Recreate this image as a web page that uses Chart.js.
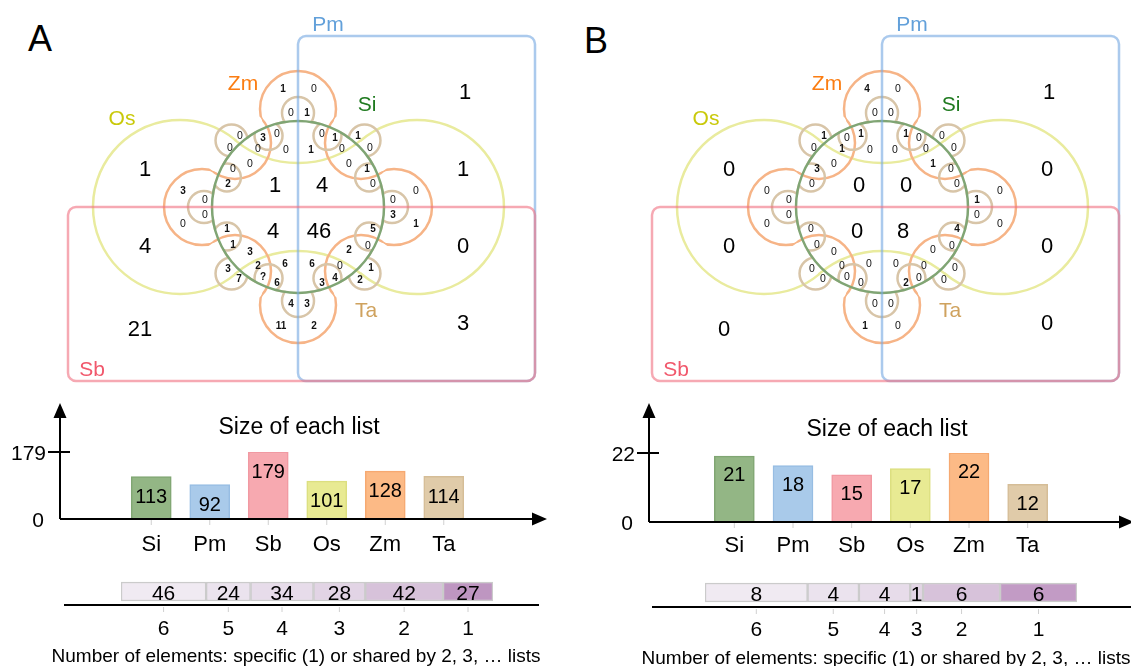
<!DOCTYPE html>
<html>
<head>
<meta charset="utf-8">
<title>Venn diagrams</title>
<script src="https://cdn.jsdelivr.net/npm/chart.js@4.4.1/dist/chart.umd.min.js"></script>
<style>
  body { margin: 0; background: #fff; }
  #fig { position: relative; width: 1131px; height: 666px; overflow: hidden; background: #fff; }
  #fig canvas { position: absolute; }
  .tag { position: absolute; font: 36px "Liberation Sans", Arial, sans-serif; line-height: 36px; color: #000; }
</style>
</head>
<body>
<div id="fig">
  <div class="tag" style="left:28px;top:21px">A</div>
  <div class="tag" style="left:584px;top:23px">B</div>
  <canvas id="vennA" width="583" height="395" style="left:0;top:0"></canvas>
  <canvas id="vennB" width="547" height="395" style="left:584px;top:0"></canvas>
  <canvas id="sizeA" width="583" height="165" style="left:0;top:395px"></canvas>
  <canvas id="sizeB" width="548" height="165" style="left:583px;top:395px"></canvas>
  <canvas id="sharedA" width="583" height="106" style="left:0;top:560px"></canvas>
  <canvas id="sharedB" width="548" height="106" style="left:583px;top:560px"></canvas>
</div>
<script>
const FONT = '"Liberation Sans", Arial, sans-serif';

// Size of each list
const lists = ['Si', 'Pm', 'Sb', 'Os', 'Zm', 'Ta'];
const sizesA = [113, 92, 179, 101, 128, 114];
const sizesB = [21, 18, 15, 17, 22, 12];

// Elements specific (1) or shared by n lists
const sharedBy = ['6', '5', '4', '3', '2', '1'];
const sharedA = [46, 24, 34, 28, 42, 27];
const sharedB = [8, 4, 4, 1, 6, 6];

// Venn region counts (big regions, then the small ones round the ring)
const bigA = [1, 1, 1, 1, 4, 4, 4, 46, 0, 21, 3];
const bigB = [1, 0, 0, 0, 0, 0, 0, 8, 0, 0, 0];
// null = unreadable in the source, printed as "?"
const smallA = [1, 0, 0, 1,
  0, 3, 0, 0, 0, 0, 0, 0, 2,
  0, 1, 1, 0, 0, 1, 0, 1, 0,
  3, 0, 0, 0,
  0, 0, 3, 1,
  1, 1, 3, 3, 2, 6, 7, null, 6,
  5, 0, 2, 6, 0, 1, 4, 3, 2,
  4, 3, 11, 2];
const smallB = [4, 0, 0, 0,
  1, 0, 1, 0, 1, 0, 0, 3, 0,
  1, 0, 0, 0, 0, 0, 1, 0, 0,
  0, 0, 0, 0,
  0, 1, 0, 0,
  0, 0, 0, 0, 0, 0, 0, 0, 0,
  4, 0, 0, 0, 0, 0, 0, 2, 0,
  0, 0, 1, 0];

// colours
const listFill = ['#93b685', '#a9caea', '#f7a9b0', '#e8ea93', '#fcba86', '#e0cba9'];
const listLine = ['#80a673', '#97bde3', '#f199a2', '#dcdf80', '#f6a971', '#d5bd97'];
const sharedFillA = ['#f0eaf2', '#ebe3ee', '#e7dcea', '#e2d4e5', '#d7c2da', '#be96c1'];
const sharedFillB = ['#f0eaf2', '#ebe3ee', '#e7dcea', '#e2d4e5', '#d7c2da', '#c29bc5'];

// venn layout (venn units = px inside the venn canvas)
const bigPos = [[465, 91], [145, 168], [463, 168], [275, 184], [322, 184], [145, 245],
  [273, 230], [319, 230], [463, 245], [140, 328], [463, 322]];
const smallPos = [
  [283, 88], [314, 88], [291, 112], [307, 112],
  [240, 135], [263, 137], [277, 133], [230, 147], [258, 148], [286, 149], [250, 163], [233, 168], [228, 183],
  [322, 133], [335, 137], [358, 135], [342, 148], [370, 147], [311, 149], [349, 163], [367, 168], [373, 183],
  [183, 190], [205, 199], [205, 214], [183, 223],
  [416, 190], [393, 199], [393, 214], [416, 223],
  [227, 228], [233, 244], [250, 251], [228, 268], [258, 265], [285, 263], [239, 278], [263, 276], [277, 282],
  [373, 228], [368, 245], [349, 249], [312, 263], [340, 265], [371, 267], [335, 277], [322, 282], [360, 279],
  [291, 303], [307, 303], [281, 325], [314, 325]
];
const setTags = [
  ['Pm', 328, 23, '#62a0da'], ['Zm', 243, 82, '#fb7d12'], ['Os', 122, 117, '#c9c90a'],
  ['Si', 367, 103, '#1f7a1f'], ['Ta', 366, 309, '#cfa25e'], ['Sb', 92, 368, '#f1586c']
];

const CX = 298, CY = 207;
const osLeft = [180, 207, 87], osRight = [417, 207, 87], osTop = [298, 65, 98], osBot = [298, 349, 98];
const siRing = [298, 207, 86];
const zmAdd = [[298, 207, 85], [298, 109, 38], [202, 207, 38], [394, 207, 38], [298, 305, 38]];
const zmCut = [[235, 143, 36], [361, 143, 36], [235, 271, 36], [361, 271, 36]];
const taAdd = [[298, 207, 86]];
const taCut = [];
for (let k = 0; k < 8; k++) {
  const a = k * Math.PI / 4, b = a + Math.PI / 8;
  taAdd.push([CX + 94 * Math.cos(a), CY - 94 * Math.sin(a), 16]);
  taCut.push([CX + 77 * Math.cos(b), CY - 77 * Math.sin(b), 14]);
}
const pmBox = [298, 36, 535, 381];
const sbBox = [68, 207, 535, 381];

// text centred on its digits / capitals
function text(ctx, t, x, y, size) {
  ctx.textBaseline = 'alphabetic';
  ctx.fillText(t, x, y + size * 0.36);
}

// stroke the outline of (union of adds) minus (union of cuts)
function outline(ctx, adds, cuts, color, w) {
  const W = ctx.canvas.width, H = ctx.canvas.height;
  const outside = c => {
    ctx.beginPath();
    ctx.rect(0, 0, W, H);
    ctx.moveTo(c[0] + c[2], c[1]);
    ctx.arc(c[0], c[1], c[2], 0, Math.PI * 2);
    ctx.clip('evenodd');
  };
  const ring = c => {
    ctx.beginPath();
    ctx.arc(c[0], c[1], c[2], 0, Math.PI * 2);
    ctx.strokeStyle = color;
    ctx.lineWidth = w;
    ctx.stroke();
  };
  adds.forEach((a, i) => {
    ctx.save();
    adds.forEach((b, j) => { if (j !== i) outside(b); });
    cuts.forEach(outside);
    ring(a);
    ctx.restore();
  });
  cuts.forEach((a, i) => {
    ctx.save();
    ctx.beginPath();
    adds.forEach(b => { ctx.moveTo(b[0] + b[2], b[1]); ctx.arc(b[0], b[1], b[2], 0, Math.PI * 2); });
    ctx.clip();
    cuts.forEach((b, j) => { if (j !== i) outside(b); });
    ring(a);
    ctx.restore();
  });
}

function box(ctx, x0, y0, x1, y1, r) {
  ctx.beginPath();
  ctx.moveTo(x0 + r, y0);
  ctx.arcTo(x1, y0, x1, y1, r);
  ctx.arcTo(x1, y1, x0, y1, r);
  ctx.arcTo(x0, y1, x0, y0, r);
  ctx.arcTo(x0, y0, x1, y0, r);
  ctx.closePath();
}

function vennPlugin(big, small) {
  return {
    id: 'venn',
    afterDraw(chart) {
      const ctx = chart.ctx, xs = chart.scales.x, ys = chart.scales.y;
      const X = v => xs.getPixelForValue(v);
      const Y = v => ys.getPixelForValue(v);
      const k = X(1) - X(0);
      const P = c => [X(c[0]), Y(c[1]), c[2] * k];
      const ang = (c, d) => Math.atan2(d[1] - c[1], d[0] - c[0]);
      ctx.save();

      // Os: two circles joined by two arcs through the middle
      const L = P(osLeft), R = P(osRight), T = P(osTop), B = P(osBot);
      ctx.beginPath();
      ctx.arc(L[0], L[1], L[2], ang(L, T), ang(L, B), true);
      ctx.arc(B[0], B[1], B[2], ang(B, L), ang(B, R), false);
      ctx.arc(R[0], R[1], R[2], ang(R, B), ang(R, T), true);
      ctx.arc(T[0], T[1], T[2], ang(T, R), ang(T, L), false);
      ctx.closePath();
      ctx.strokeStyle = '#e9eb9e';
      ctx.lineWidth = 2.5;
      ctx.stroke();

      // Zm and Ta flowers
      outline(ctx, zmAdd.map(P), zmCut.map(P), '#f6b487', 2.5);
      outline(ctx, taAdd.map(P), taCut.map(P), '#d8c5a8', 2.5);

      // Si
      const S = P(siRing);
      ctx.beginPath();
      ctx.arc(S[0], S[1], S[2], 0, Math.PI * 2);
      ctx.strokeStyle = '#80a574';
      ctx.lineWidth = 2.5;
      ctx.stroke();

      // Pm and Sb boxes
      ctx.lineWidth = 2.5;
      box(ctx, X(pmBox[0]), Y(pmBox[1]), X(pmBox[2]), Y(pmBox[3]), 8 * k);
      ctx.strokeStyle = 'rgba(120, 170, 226, 0.62)';
      ctx.stroke();
      box(ctx, X(sbBox[0]), Y(sbBox[1]), X(sbBox[2]), Y(sbBox[3]), 8 * k);
      ctx.strokeStyle = 'rgba(240, 112, 128, 0.6)';
      ctx.stroke();

      // counts
      ctx.textAlign = 'center';
      ctx.fillStyle = '#000';
      ctx.font = '22px ' + FONT;
      bigPos.forEach((p, i) => text(ctx, String(big[i]), X(p[0]), Y(p[1]), 22));
      ctx.fillStyle = '#111';
      smallPos.forEach((p, i) => {
        const v = small[i];
        ctx.font = (v === 0 ? '10.5px ' : 'bold 10px ') + FONT;
        text(ctx, v == null ? '?' : String(v), X(p[0]), Y(p[1]), 10.5);
      });

      // set names
      ctx.font = '21px ' + FONT;
      setTags.forEach(t => {
        ctx.fillStyle = t[3];
        text(ctx, t[0], X(t[1]), Y(t[2]), 21);
      });
      ctx.restore();
    }
  };
}

function vennChart(id, big, small) {
  const cv = document.getElementById(id);
  new Chart(cv, {
    type: 'scatter',
    data: { datasets: [] },
    options: {
      responsive: false,
      animation: false,
      plugins: { legend: { display: false }, tooltip: { enabled: false } },
      scales: {
        x: { type: 'linear', display: false, min: 0, max: cv.width },
        y: { type: 'linear', display: false, min: 0, max: cv.height, reverse: true }
      }
    },
    plugins: [vennPlugin(big, small)]
  });
}

function sizeAxes(values, lay) {
  return {
    id: 'sizeAxes',
    afterDraw(chart) {
      const ctx = chart.ctx, x = chart.scales.x, y = chart.scales.y;
      const y0 = y.getPixelForValue(0), yTop = y.getPixelForValue(y.max);
      ctx.save();
      // faint ticks under the bars
      ctx.strokeStyle = '#d0d0d0';
      ctx.lineWidth = 1;
      ctx.beginPath();
      values.forEach((v, i) => {
        const cx = x.getPixelForValue(i);
        ctx.moveTo(cx, y0 + 1);
        ctx.lineTo(cx, y0 + 6);
      });
      ctx.stroke();

      ctx.strokeStyle = '#000';
      ctx.fillStyle = '#000';
      ctx.lineWidth = 2;
      ctx.beginPath();
      ctx.moveTo(lay.axisX, y0); ctx.lineTo(lay.tipX - 12, y0);
      ctx.moveTo(lay.axisX, y0); ctx.lineTo(lay.axisX, lay.tipY + 12);
      ctx.moveTo(lay.axisX - 12, yTop); ctx.lineTo(lay.axisX + 10, yTop);
      ctx.stroke();
      ctx.beginPath();
      ctx.moveTo(lay.tipX, y0); ctx.lineTo(lay.tipX - 15, y0 - 6.5); ctx.lineTo(lay.tipX - 15, y0 + 6.5); ctx.closePath();
      ctx.moveTo(lay.axisX, lay.tipY); ctx.lineTo(lay.axisX - 6.5, lay.tipY + 15); ctx.lineTo(lay.axisX + 6.5, lay.tipY + 15); ctx.closePath();
      ctx.fill();

      ctx.font = '21px ' + FONT;
      ctx.textAlign = 'right';
      text(ctx, String(y.max), lay.axisX - 14, yTop, 21);
      text(ctx, '0', lay.axisX - 16, y0, 21);

      ctx.textAlign = 'center';
      ctx.font = '23px ' + FONT;
      text(ctx, 'Size of each list', lay.titleX, lay.titleY, 23);

      values.forEach((v, i) => {
        const cx = x.getPixelForValue(i);
        ctx.font = '22px ' + FONT;
        text(ctx, lists[i], cx, lay.catY, 22);
        ctx.font = '20px ' + FONT;
        text(ctx, String(v), cx, y.getPixelForValue(v) + lay.valueDrop, 20);
      });
      ctx.restore();
    }
  };
}

function sizeChart(id, values, lay) {
  new Chart(document.getElementById(id), {
    type: 'bar',
    data: {
      labels: lists,
      datasets: [{
        data: values,
        backgroundColor: listFill,
        borderColor: listLine,
        borderWidth: 1.5,
        borderSkipped: false,
        barThickness: 40
      }]
    },
    options: {
      responsive: false,
      animation: false,
      layout: { padding: lay.pad },
      plugins: { legend: { display: false }, tooltip: { enabled: false } },
      scales: {
        x: { display: false },
        y: { display: false, min: 0, max: Math.max(...values) }
      }
    },
    plugins: [sizeAxes(values, lay)]
  });
}

function sharedAxis(values, lay) {
  return {
    id: 'sharedAxis',
    afterDraw(chart) {
      const ctx = chart.ctx, x = chart.scales.x;
      const yc = chart.scales.y.getPixelForValue(0);
      ctx.save();
      ctx.strokeStyle = '#000';
      ctx.lineWidth = 2;
      ctx.beginPath();
      ctx.moveTo(lay.lineX0, lay.lineY);
      ctx.lineTo(lay.lineX1, lay.lineY);
      ctx.stroke();

      ctx.textAlign = 'center';
      ctx.fillStyle = '#000';
      let cum = 0;
      values.forEach((v, i) => {
        const cx = x.getPixelForValue(cum + v / 2);
        cum += v;
        ctx.strokeStyle = '#d0d0d0';
        ctx.lineWidth = 1;
        ctx.beginPath();
        ctx.moveTo(cx, lay.lineY + 2);
        ctx.lineTo(cx, lay.lineY + 7);
        ctx.stroke();
        ctx.font = '21px ' + FONT;
        text(ctx, String(v), cx, yc + 1, 21);
        text(ctx, sharedBy[i], cx, lay.numY, 21);
      });
      ctx.font = '19px ' + FONT;
      text(ctx, 'Number of elements: specific (1) or shared by 2, 3, \u2026 lists', lay.noteX, lay.noteY, 19);
      ctx.restore();
    }
  };
}

function sharedChart(id, values, fills, lay) {
  new Chart(document.getElementById(id), {
    type: 'bar',
    data: {
      labels: [''],
      datasets: values.map((v, i) => ({
        data: [v],
        backgroundColor: fills[i],
        borderColor: '#cbcbcb',
        borderWidth: 1.5,
        borderSkipped: false,
        barThickness: 19
      }))
    },
    options: {
      indexAxis: 'y',
      responsive: false,
      animation: false,
      layout: { padding: lay.pad },
      plugins: { legend: { display: false }, tooltip: { enabled: false } },
      scales: {
        x: { display: false, stacked: true, min: 0, max: values.reduce((a, b) => a + b, 0) },
        y: { display: false, stacked: true }
      }
    },
    plugins: [sharedAxis(values, lay)]
  });
}

vennChart('vennA', bigA, smallA);
vennChart('vennB', bigB, smallB);

sizeChart('sizeA', sizesA, {
  pad: { left: 122, right: 110, top: 57, bottom: 41 },
  axisX: 60, tipX: 547, tipY: 8, titleX: 299, titleY: 31, catY: 148, valueDrop: 19
});
sizeChart('sizeB', sizesB, {
  pad: { left: 122, right: 74, top: 58, bottom: 38 },
  axisX: 66, tipX: 551, tipY: 8, titleX: 304, titleY: 33, catY: 149, valueDrop: 18
});

sharedChart('sharedA', sharedA, sharedFillA, {
  pad: { left: 121, right: 90, top: 12, bottom: 55 },
  lineX0: 64, lineX1: 539, lineY: 45, numY: 67, noteX: 296, noteY: 95
});
sharedChart('sharedB', sharedB, sharedFillB, {
  pad: { left: 122, right: 54, top: 13, bottom: 54 },
  lineX0: 69, lineX1: 560, lineY: 47, numY: 68, noteX: 303, noteY: 97
});
</script>
</body>
</html>
